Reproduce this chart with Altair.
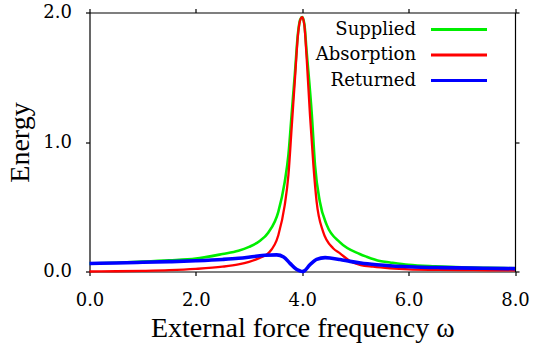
import altair as alt
import pandas as pd

# ---- data ----
series_names = ["Supplied", "Absorption", "Returned"]
series_colors = ["#00ee00", "#ff0000", "#0000ff"]

omega_supplied = [0.0, 0.5, 1.0, 1.5, 2.0, 2.5, 2.8, 3.0, 3.2, 3.36, 3.55, 3.67, 3.74, 3.80,
                  3.86, 3.92, 3.96, 4.0, 4.04, 4.08, 4.18, 4.24, 4.33, 4.46, 4.71, 5.08,
                  5.21, 5.46, 5.65, 6.0, 6.5, 7.0, 7.5, 8.0]
supplied = [0.062, 0.068, 0.076, 0.086, 0.100, 0.135, 0.160, 0.190, 0.235, 0.300, 0.460, 0.690,
            0.900, 1.210, 1.520, 1.840, 1.945, 1.965, 1.910, 1.710, 1.210, 0.820, 0.540, 0.360,
            0.225, 0.135, 0.114, 0.081, 0.070, 0.052, 0.040, 0.032, 0.028, 0.025]

omega_absorption = [0.0, 0.5, 1.0, 1.5, 2.0, 2.5, 2.8, 3.0, 3.2, 3.36, 3.55, 3.67, 3.74, 3.80,
                    3.86, 3.92, 3.96, 4.0, 4.04, 4.08, 4.145, 4.21, 4.27, 4.39, 4.58, 4.71,
                    4.90, 5.1, 5.33, 5.65, 6.0, 6.5, 7.0, 7.5, 8.0]
absorption = [0.000, 0.002, 0.005, 0.010, 0.020, 0.037, 0.055, 0.075, 0.105, 0.140, 0.280, 0.510,
              0.745, 1.105, 1.470, 1.830, 1.940, 1.965, 1.900, 1.670, 1.210, 0.820, 0.540, 0.310,
              0.180, 0.140, 0.080, 0.050, 0.037, 0.025, 0.017, 0.013, 0.011, 0.009, 0.008]

omega_returned = [0.0, 0.5, 1.0, 1.5, 2.0, 2.5, 2.8, 3.1, 3.3, 3.52, 3.65, 3.77, 3.89, 3.96,
                  4.0, 4.04, 4.14, 4.27, 4.43, 4.55, 4.71, 4.9, 5.1, 5.4, 5.7, 6.0, 6.6, 7.2, 8.0]
returned = [0.062, 0.066, 0.071, 0.076, 0.083, 0.093, 0.102, 0.116, 0.125, 0.128, 0.112, 0.063,
            0.017, 0.004, 0.000, 0.005, 0.050, 0.094, 0.107, 0.102, 0.092, 0.078, 0.065, 0.052,
            0.043, 0.037, 0.030, 0.026, 0.022]

x_ticks = [0, 2, 4, 6, 8]
y_ticks = [0, 1, 2]

frames = []
for name, om, val in [("Supplied", omega_supplied, supplied),
                      ("Absorption", omega_absorption, absorption),
                      ("Returned", omega_returned, returned)]:
    frames.append(pd.DataFrame({"omega": om, "energy": val, "series": name}))
df = pd.concat(frames, ignore_index=True)

FONT = "Liberation Serif"
LABEL_FONT = "DejaVu Serif"

xscale = alt.Scale(domain=[0, 8], nice=False)
yscale = alt.Scale(domain=[0, 2], nice=False)
cscale = alt.Scale(domain=series_names, range=series_colors)

legend = alt.Legend(
    title=None, orient="none", legendX=360.5, legendY=8,
    labelAlign="right", labelOffset={"expr": "-52"},
    labelFont={"expr": "'DejaVu Serif'"}, labelFontSize=18,
    labelColor="black", symbolType="M-5.6,0H5.6", symbolSize=100,
    symbolStrokeWidth=3, padding=0, rowPadding=7.5,
)

x_bottom = alt.X("omega:Q", scale=xscale,
                 axis=alt.Axis(values=x_ticks, format=".1f", title="External force frequency ω",
                               titleFontSize=28, titlePadding=5, labelFlush=False,
                               labelFont=LABEL_FONT, labelFontSize=18, labelPadding=16))
y_left = alt.Y("energy:Q", scale=yscale,
               axis=alt.Axis(values=y_ticks, format=".1f", title="Energy",
                             titleFontSize=28, titlePadding=8, labelFont=LABEL_FONT,
                             labelFontSize=18, labelPadding=14))

def line(name, width):
    return alt.Chart(df).transform_filter(alt.datum.series == name).mark_line(
        strokeWidth=width, interpolate="monotone"
    ).encode(
        x=x_bottom, y=y_left,
        color=alt.Color("series:N", scale=cscale, legend=legend),
    )

mirror = alt.Chart(df).transform_filter(alt.datum.series == "Supplied").mark_line(opacity=0).encode(
    x=alt.X("omega:Q", scale=xscale,
            axis=alt.Axis(orient="top", values=x_ticks, labels=False, title=None)),
    y=alt.Y("energy:Q", scale=yscale,
            axis=alt.Axis(orient="right", values=y_ticks, labels=False, title=None)),
)

curves = alt.layer(line("Supplied", 2.6), line("Absorption", 2.3), line("Returned", 3.6))

chart = alt.layer(curves, mirror).resolve_axis(x="independent", y="independent").properties(
    width=425.5, height=259,
    autosize=alt.AutoSizeParams(type="none"),
    padding={"left": 89.5, "top": 12.5, "right": 24, "bottom": 76},
).configure(font=FONT).configure_view(stroke=None).configure_axis(
    grid=False, domainColor="black", domainWidth=1.2, tickColor="black", tickWidth=1.2,
    tickSize=4, labelColor="black", titleFont=FONT,
    titleColor="black", titleFontWeight="normal",
).configure_legend(labelFont=LABEL_FONT)

chart.save("out.html", embed_options={"renderer": "svg", "actions": False})
